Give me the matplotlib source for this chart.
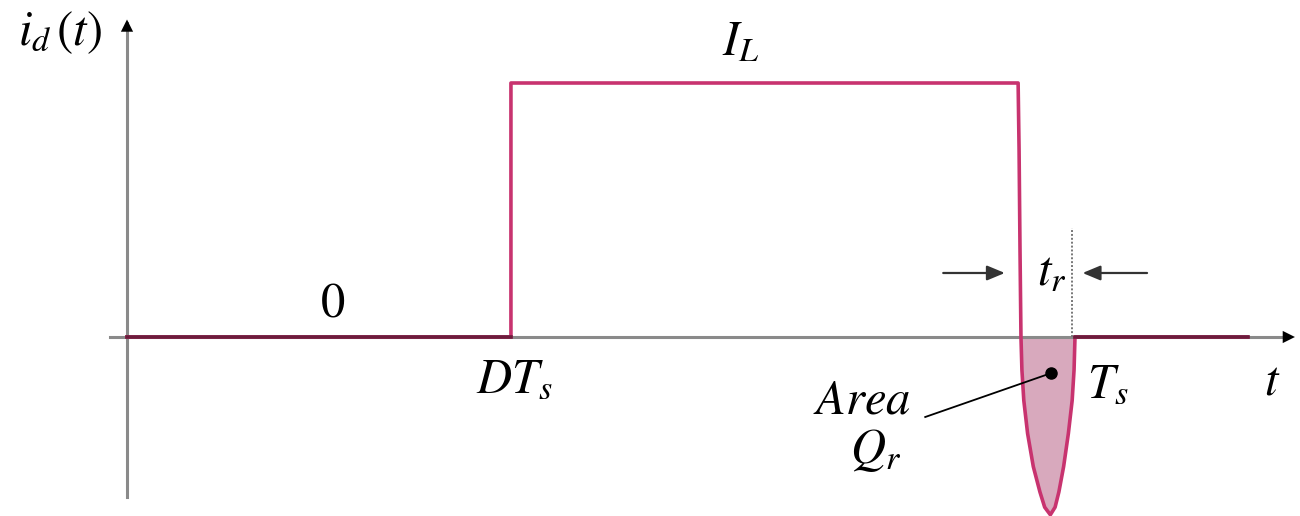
import numpy as np
import matplotlib
matplotlib.use("Agg")
import matplotlib.pyplot as plt
from matplotlib.colors import to_rgb

plt.rcParams["mathtext.fontset"] = "stix"
plt.rcParams["font.family"] = ["Liberation Serif", "DejaVu Serif"]

# Normalised switching period and current levels
Ts = 1.0
D = 0.405
IL = 1.0
t_end = 1.182

# Reverse-recovery lobe of the diode current (time, current)
t_rec = [0.940, 0.941, 0.942, 0.943, 0.944, 0.946, 0.950, 0.956, 0.963,
         0.968, 0.974, 0.979, 0.983, 0.988, 0.993, 0.997, 0.999, 1.000]
i_rec = [1.00, 0.74, 0.34, 0.00, -0.13, -0.25, -0.38, -0.51, -0.61,
         -0.67, -0.70, -0.67, -0.61, -0.51, -0.38, -0.25, -0.13, 0.00]

t_wave = [0.0, D, D] + t_rec + [t_end]
i_wave = [0.0, 0.0, IL] + i_rec + [0.0]

LINE = "#c8336f"
AXIS = "#8a8a8a"
FILL = "#d8a9bd"
# where the trace lies on the time axis the two inks overlap
OVERLAP = tuple(a * b for a, b in zip(to_rgb(LINE), to_rgb(AXIS)))

W, H, DPI = 1300, 516, 100
X0, Y0 = 127, 337        # origin in pixels
SX, SY = 948.0, 254.0    # pixels per unit

fig = plt.figure(figsize=(W / DPI, H / DPI), dpi=DPI)
ax = fig.add_axes([0, 0, 1, 1])
ax.set_xlim(-X0 / SX, (W - X0) / SX)
ax.set_ylim(-(H - Y0) / SY, Y0 / SY)
ax.axis("off")

# recovered charge area
t_neg = np.array(t_rec[3:])
i_neg = np.array(i_rec[3:])
ax.fill_between(t_neg, i_neg, 0, color=FILL, lw=0, zorder=1)

# waveform
ax.plot(t_wave, i_wave, color=LINE, lw=2.6, solid_joinstyle="round", zorder=3)

# axes
ax.plot([-0.018, 1.225], [0, 0], color=AXIS, lw=2.2, zorder=2)
ax.plot([0, 0], [-0.63, 1.235], color=AXIS, lw=2.2, zorder=2)
ax.plot([0, D], [0, 0], color=OVERLAP, lw=2.6, zorder=4)
ax.plot([Ts, t_end], [0, 0], color=OVERLAP, lw=2.6, zorder=4)

head = dict(arrowstyle="-|>", color="black", lw=0, mutation_scale=22,
            shrinkA=0, shrinkB=0)
ax.annotate("", xy=(0, 1.25), xytext=(0, -12), textcoords="offset points",
            arrowprops=head, zorder=5)
ax.annotate("", xy=(1.232, 0), xytext=(-12, 0), textcoords="offset points",
            arrowprops=head, zorder=5)

# recovery time markers
ax.plot([Ts - 0.003, Ts - 0.003], [0, 0.43], color="#777777", lw=1.4,
        ls=(0, (1, 1)), zorder=2)
small = dict(arrowstyle="-|>,head_length=0.6,head_width=0.25", color="#333333",
             lw=1.6, mutation_scale=18, shrinkA=0, shrinkB=0)
ax.annotate("", xy=(0.926, 0.252), xytext=(0.861, 0.252), arrowprops=small)
ax.annotate("", xy=(1.008, 0.252), xytext=(1.076, 0.252), arrowprops=small)

# leader to the charge area
ax.plot([0.842, 0.975], [-0.315, -0.142], color="black", lw=1.3, zorder=5)
ax.plot([0.975], [-0.142], marker="o", ms=8, color="black", zorder=6)

fs = 35
ax.text(-0.115, 1.15, r"$i_d\,(t)$", fontsize=fs, ha="left", va="baseline")
ax.text(0.628, 1.11, r"$I_L$", fontsize=fs, ha="left", va="baseline")
ax.text(0.217, 0.079, r"$0$", fontsize=fs, ha="center", va="baseline")
ax.text(D + 0.004, -0.22, r"$DT_s$", fontsize=fs, ha="center", va="baseline")
ax.text(1.013, -0.236, r"$T_s$", fontsize=fs, ha="left", va="baseline")
ax.text(1.208, -0.228, r"$t$", fontsize=fs, ha="center", va="baseline")
ax.text(0.960, 0.205, r"$t_r$", fontsize=fs, ha="left", va="baseline")
ax.text(0.724, -0.30, r"$Area$", fontsize=fs, ha="left", va="baseline")
ax.text(0.763, -0.495, r"$Q_r$", fontsize=fs, ha="left", va="baseline")

fig.savefig("out.png", dpi=DPI)
